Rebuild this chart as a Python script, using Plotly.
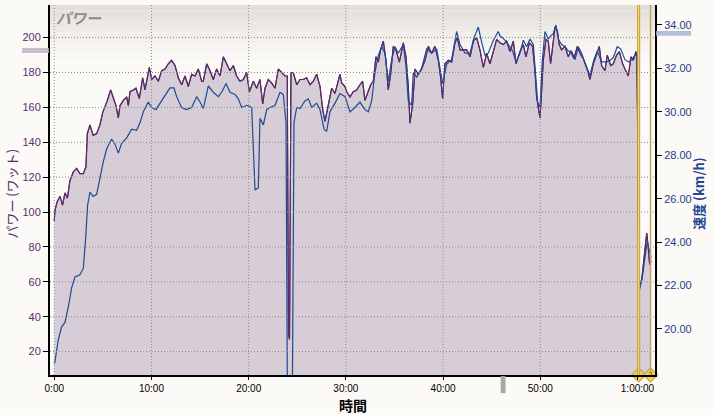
import plotly.graph_objects as go

# ---------------- data (time in minutes) ----------------
power_t = [0.0, 0.07, 0.3, 0.59, 0.85, 1.10, 1.35, 1.61, 1.96, 2.30, 2.64, 2.99, 3.26, 3.40, 3.67, 4.00,
           4.36, 4.70, 4.98, 5.22, 5.46, 5.80, 6.07, 6.35, 6.59, 6.76, 7.10, 7.45, 7.62, 7.79, 8.13, 8.40,
           8.75, 9.09, 9.33, 9.78, 10.02, 10.36, 10.70, 11.05, 11.39, 11.73, 12.07, 12.42, 12.76, 13.10,
           13.45, 13.79, 14.13, 14.48, 14.82, 15.16, 15.33, 15.68, 16.02, 16.36, 16.70, 17.05, 17.39, 17.73,
           18.08, 18.42, 18.76, 19.10, 19.45, 19.79, 20.07, 20.48, 20.82, 21.16, 21.44, 21.68, 22.02, 22.36,
           22.71, 23.05, 23.39, 23.73, 23.97, 24.10, 24.20, 24.35, 24.59, 24.94, 25.28, 25.62, 25.96, 26.31,
           26.65, 26.99, 27.34, 27.61, 27.85, 28.19, 28.54, 28.88, 29.22, 29.39, 29.56, 29.91, 30.08, 30.42,
           30.76, 31.11, 31.45, 31.72, 31.96, 32.31, 32.55, 32.82, 33.09, 33.33, 33.57, 33.85, 34.12, 34.36,
           34.60, 34.88, 35.15, 35.50, 35.91, 36.18, 36.42, 36.59, 36.87, 37.11, 37.45, 37.79, 38.14, 38.48,
           38.82, 39.16, 39.51, 39.75, 39.95, 40.19, 40.54, 40.88, 41.22, 41.46, 41.74, 42.08, 42.42, 42.77,
           43.11, 43.45, 43.79, 44.14, 44.48, 44.82, 45.17, 45.51, 45.85, 46.20, 46.54, 46.88, 47.22, 47.50,
           47.91, 48.25, 48.52, 48.87, 49.21, 49.45, 49.62, 49.79, 49.97, 50.14, 50.31, 50.58, 50.82, 51.06,
           51.27, 51.51, 51.75, 51.95, 52.19, 52.54, 52.88, 53.12, 53.46, 53.81, 54.08, 54.42, 54.77, 55.11,
           55.45, 55.80, 56.07, 56.31, 56.65, 56.89, 57.24, 57.51, 57.85, 58.13, 58.47, 58.71, 59.05, 59.33,
           59.57, 59.84, 59.95, 60.15, 60.45, 60.7, 60.95, 61.1, 61.25, 61.4]
power_w = [95, 101, 106, 109, 104, 111, 108, 118, 123, 125, 122, 122, 126, 145, 150, 144,
           145, 150, 157, 160, 164, 170, 165, 161, 154, 161, 164, 166, 161, 169, 170, 171,
           165, 177, 170, 183, 176, 178, 175, 181, 182, 185, 187, 184, 177, 173,
           178, 172, 179, 178, 182, 175, 175, 185, 181, 176, 182, 178, 189, 185,
           181, 184, 178, 175, 176, 180, 169, 175, 171, 176, 162, 171, 176, 174,
           171, 182, 180, 178, 178, 30, 27, 180, 180, 173, 176, 176, 177, 173,
           175, 179, 172, 159, 152, 162, 171, 168, 176, 179, 174, 172, 169, 166,
           169, 170, 173, 175, 164, 169, 173, 175, 189, 186, 193, 198, 187, 170,
           179, 195, 193, 186, 197, 189, 172, 151, 162, 182, 179, 182, 187, 195,
           191, 195, 187, 177, 165, 185, 187, 186, 197, 200, 193, 193, 193, 189,
           198, 200, 193, 183, 191, 185, 193, 199, 197, 196, 198, 192, 198, 185,
           192, 196, 189, 197, 195, 181, 166, 160, 154, 170, 187, 199, 198, 185,
           196, 206, 204, 196, 193, 195, 189, 192, 188, 195, 191, 188, 183, 176,
           185, 191, 195, 184, 181, 190, 184, 185, 190, 192, 185, 182, 178, 189,
           187, 192, 190, 55, 62, 75, 88, 80, 70, 72]

speed_t = [0.0, 0.07, 0.41, 0.76, 1.10, 1.44, 1.79, 2.13, 2.64, 2.99, 3.23, 3.43, 3.67, 4.00, 4.36, 4.70,
           5.04, 5.39, 5.90, 6.25, 6.59, 6.93, 7.45, 7.96, 8.47, 8.82, 9.16, 9.67, 10.02, 10.46, 10.87, 11.39,
           11.90, 12.31, 12.59, 13.10, 13.62, 14.13, 14.65, 14.99, 15.33, 15.85, 16.36, 16.88, 17.22, 17.67,
           18.08, 18.59, 18.93, 19.28, 19.79, 20.31, 20.48, 20.65, 20.99, 21.16, 21.51, 21.85, 22.19, 22.71,
           23.22, 23.56, 23.84, 24.06, 24.40, 24.66, 24.94, 25.28, 25.79, 26.14, 26.48, 26.99, 27.34, 27.75,
           28.02, 28.36, 28.88, 29.39, 29.91, 30.42, 30.93, 31.45, 31.96, 32.31, 32.65, 32.99, 33.33, 33.68,
           34.02, 34.36, 34.71, 35.05, 35.39, 35.91, 36.18, 36.42, 36.76, 36.93, 37.28, 37.79, 38.31, 38.82,
           39.34, 39.68, 39.95, 40.37, 40.88, 41.39, 41.74, 42.25, 42.77, 43.18, 43.62, 43.97, 44.31, 44.65,
           45.17, 45.68, 45.85, 46.26, 46.71, 47.15, 47.50, 47.91, 48.25, 48.59, 48.94, 49.28, 49.52, 49.73,
           49.97, 50.20, 50.48, 50.82, 51.06, 51.34, 51.61, 51.85, 52.19, 52.54, 52.88, 53.22, 53.57, 53.91,
           54.25, 54.70, 55.11, 55.52, 55.86, 56.31, 56.76, 57.17, 57.51, 57.92, 58.26, 58.71, 59.05, 59.40,
           59.74, 59.95, 60.2, 60.5, 60.8, 61.0, 61.4]
speed_kmh = [18.4, 18.5, 19.5, 20.1, 20.3, 21.0, 21.9, 22.4, 22.5, 22.8, 24.2, 25.7, 26.3, 26.1, 26.2, 26.95,
             27.7, 28.3, 28.75, 28.5, 28.1, 28.55, 28.8, 29.2, 29.15, 29.5, 30.0, 30.45, 30.2, 30.1, 30.4, 30.76,
             31.1, 31.1, 30.7, 30.2, 30.1, 30.2, 30.7, 30.45, 30.15, 31.2, 30.9, 30.7, 30.9, 31.3,
             30.9, 30.8, 30.6, 30.2, 30.3, 30.2, 28.3, 26.4, 26.5, 29.7, 29.4, 30.1, 30.2, 30.3,
             30.9, 30.8, 29.5, 10.0, 10.0, 29.5, 30.2, 30.15, 30.5, 30.6, 30.2, 30.4, 30.1, 29.2,
             29.1, 30.0, 30.4, 30.84, 30.7, 30.0, 30.2, 30.45, 30.1, 30.0, 30.5, 31.8, 32.6, 33.0,
             32.7, 31.4, 32.4, 33.0, 32.7, 33.1, 32.1, 30.5, 30.3, 31.8, 31.6, 32.0, 32.9, 32.7,
             32.9, 32.0, 31.3, 32.2, 32.4, 33.7, 33.1, 32.7, 32.7, 33.4, 33.9, 33.2, 32.6, 32.7,
             33.3, 33.7, 33.5, 33.35, 33.1, 32.8, 32.3, 32.7, 33.3, 33.0, 33.35, 33.1, 31.7, 30.45,
             30.2, 32.3, 33.7, 33.35, 33.5, 33.6, 34.0, 33.35, 33.1, 33.0, 32.8, 32.8, 32.4, 33.0,
             32.7, 32.1, 31.7, 32.4, 32.8, 32.3, 32.3, 32.35, 32.5, 33.0, 32.9, 32.4, 32.3, 32.4,
             32.6, 32.7, 21.8, 22.4, 23.4, 24.0, 23.3]

x_tick_vals = [0, 10, 20, 30, 40, 50, 60]
x_tick_text = ["0:00", "10:00", "20:00", "30:00", "40:00", "50:00", "1:00:00"]
power_ticks = [20, 40, 60, 80, 100, 120, 140, 160, 180, 200]
speed_ticks = [20, 22, 24, 26, 28, 30, 32, 34]
lap_times = [60.12, 61.34]
lap_labels = ["1", "2"]

X_RANGE = [-0.44, 61.8]
P_RANGE = [6.6, 218.7]
S_RANGE = [17.88, 34.92]

PURPLE = "#5a2a68"
BLUE = "#1e4a96"
FILL = "#d7cdd6"
BG = "#fcfaf6"
GRID = dict(color="#8a8a8a", width=1, dash="1px,2px")

fig = go.Figure()

fig.add_trace(go.Scatter(x=power_t, y=power_w, mode="lines", fill="tozeroy",
                         fillcolor=FILL, line=dict(color=PURPLE, width=1.2),
                         hoverinfo="skip", showlegend=False))
fig.add_trace(go.Scatter(x=speed_t, y=speed_kmh, mode="lines", yaxis="y2",
                         line=dict(color=BLUE, width=1.2), hoverinfo="skip", showlegend=False))
fig.add_trace(go.Scatter(x=power_t, y=power_w, mode="lines",
                         line=dict(color=PURPLE, width=1.1), hoverinfo="skip", showlegend=False))

shapes = []
# top gradient of the plotting area
grad = [(226, 223, 219), (229, 226, 222), (232, 229, 225), (235, 232, 228), (238, 235, 231),
        (241, 238, 234), (244, 241, 237), (246, 244, 240), (248, 246, 242), (250, 248, 244)]
n = len(grad)
for i, c in enumerate(grad):
    y1 = 1 - i * (55 / 370) / n
    y0 = 1 - (i + 1) * (55 / 370) / n
    shapes.append(dict(type="rect", xref="paper", yref="paper", x0=0, x1=1, y0=y0, y1=y1,
                       fillcolor="rgb(%d,%d,%d)" % c, line=dict(width=0), layer="below"))
# dotted grid above the fill
for v in power_ticks:
    shapes.append(dict(type="line", xref="paper", yref="y", x0=0, x1=1, y0=v, y1=v,
                       line=GRID, layer="above"))
for v in x_tick_vals:
    shapes.append(dict(type="line", xref="x", yref="paper", x0=v, x1=v, y0=0, y1=1,
                       line=GRID, layer="above"))
# lap marker lines
shapes.append(dict(type="line", xref="x", yref="paper", x0=lap_times[0], x1=lap_times[0], y0=0, y1=1,
                   line=dict(color="#c99a3c", width=3), layer="above"))
shapes.append(dict(type="line", xref="x", yref="paper", x0=lap_times[0], x1=lap_times[0], y0=0, y1=1,
                   line=dict(color="#f6e27a", width=1), layer="above"))
shapes.append(dict(type="line", xref="x", yref="paper", x0=lap_times[1], x1=lap_times[1], y0=0, y1=1,
                   line=dict(color="#c8a062", width=1.5), layer="above"))
# side indicator bars and scroll thumb
shapes.append(dict(type="rect", xref="paper", yref="paper", x0=-0.0463, x1=-0.002, y0=0.8703, y1=0.8838,
                   fillcolor="#c9bfcc", line=dict(width=0)))
shapes.append(dict(type="rect", xref="paper", yref="paper", x0=1.002, x1=1.0595, y0=0.917, y1=0.9297,
                   fillcolor="#b4bfd6", line=dict(width=0)))
shapes.append(dict(type="rect", xref="paper", yref="paper", x0=0.745, x1=0.753, y0=-0.049, y1=-0.003,
                   fillcolor="#a8a8a8", line=dict(width=0)))

fig.add_trace(go.Scatter(x=lap_times, y=[P_RANGE[0]] * 2, mode="markers+text", text=lap_labels,
                         textposition="middle center", textfont=dict(size=7, color="#333", family="Liberation Sans"),
                         marker=dict(symbol="diamond", size=11, color="#f3d34a", line=dict(color="#b08a30", width=1)),
                         cliponaxis=False, hoverinfo="skip", showlegend=False))

annotations = [
    dict(text="パワー", xref="paper", yref="paper", x=0.006, y=1.0, xanchor="left", yanchor="top",
         showarrow=False, font=dict(family="Noto Sans CJK JP", size=15, color="#8c8c8c",
                                    style="italic", weight="bold")),
    dict(text="パワー (ワット)", xref="paper", yref="paper", x=-0.063, y=0.49, xanchor="center",
         yanchor="middle", textangle=-90, showarrow=False,
         font=dict(family="Noto Sans CJK JP", size=13, color="#5b2a73")),
    dict(text="速度 (km/h)", xref="paper", yref="paper", x=1.073, y=0.49, xanchor="center",
         yanchor="middle", textangle=-90, showarrow=False,
         font=dict(family="Noto Sans CJK JP", size=13, color="#1f4596", weight="bold")),
    dict(text="時間", xref="paper", yref="paper", x=0.5, y=-0.082, xanchor="center", yanchor="middle",
         borderpad=0, showarrow=False,
         font=dict(family="Noto Sans CJK JP", size=14, color="#000", weight="bold")),
]

fig.update_layout(
    width=713, height=415,
    margin=dict(l=50, r=58, t=5, b=40),
    paper_bgcolor=BG, plot_bgcolor=BG,
    showlegend=False,
    shapes=shapes, annotations=annotations,
    xaxis=dict(range=X_RANGE, tickvals=x_tick_vals, ticktext=x_tick_text, showgrid=False,
               zeroline=False, showline=True, linecolor="#000", linewidth=2,
               ticks="outside", ticklen=3, tickcolor="#000",
               tickfont=dict(family="Liberation Sans", size=10, color="#000")),
    yaxis=dict(range=P_RANGE, tickvals=power_ticks, showgrid=False, zeroline=False,
               showline=True, linecolor="#000", linewidth=2, ticks="outside", ticklen=5,
               tickcolor="#000", tickfont=dict(family="Liberation Sans", size=11, color="#5a2d6e")),
    yaxis2=dict(range=S_RANGE, tickvals=speed_ticks, tickformat=".2f", overlaying="y", side="right",
                showgrid=False, zeroline=False, showline=True, linecolor="#000", linewidth=2,
                ticks="outside", ticklen=5, tickcolor="#000",
                tickfont=dict(family="Liberation Sans", size=11, color="#1f3c8a")),
)

fig.write_html("out.html", config={"displayModeBar": False},
               post_script="document.body.style.margin='0';document.body.style.background='%s';" % BG)
